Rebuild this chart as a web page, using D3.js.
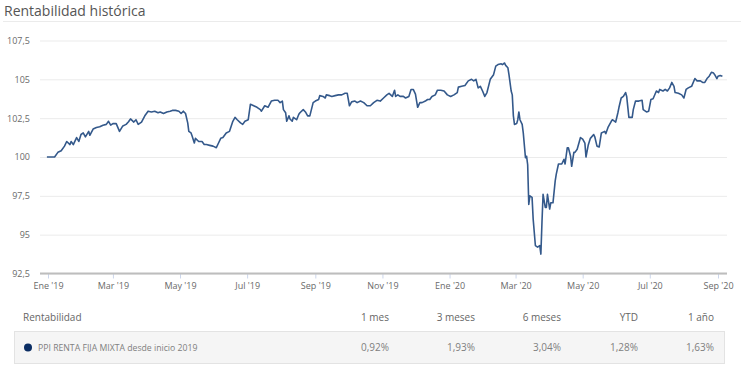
<!DOCTYPE html>
<html>
<head>
<meta charset="utf-8">
<script src="https://cdn.jsdelivr.net/npm/d3@7"></script>
<style>
  body { margin: 0; background: #fff; }
  svg { display: block; font-family: "Open Sans", sans-serif; }
</style>
</head>
<body>
<svg id="chart" width="741" height="376"></svg>
<script>
// valores (base 100 a inicio de 2019)
let dates = [
  "2018-12-31","2019-01-07","2019-01-10","2019-01-13","2019-01-16","2019-01-18","2019-01-21","2019-01-22","2019-01-24","2019-01-27",
  "2019-01-29","2019-01-31","2019-02-02","2019-02-04","2019-02-07","2019-02-08","2019-02-11","2019-02-14","2019-02-17","2019-02-20",
  "2019-02-23","2019-02-25","2019-02-27","2019-03-01","2019-03-04","2019-03-07","2019-03-10","2019-03-13","2019-03-15","2019-03-17",
  "2019-03-20","2019-03-22","2019-03-24","2019-03-27","2019-03-30","2019-04-02","2019-04-05","2019-04-08","2019-04-11","2019-04-13",
  "2019-04-16","2019-04-19","2019-04-22","2019-04-24","2019-04-27","2019-04-30","2019-05-02","2019-05-04","2019-05-06","2019-05-08",
  "2019-05-09","2019-05-11","2019-05-12","2019-05-14","2019-05-15","2019-05-18","2019-05-21","2019-05-23","2019-05-25","2019-05-28",
  "2019-05-31","2019-06-03","2019-06-05","2019-06-07","2019-06-09","2019-06-12","2019-06-15","2019-06-18","2019-06-20","2019-06-22",
  "2019-06-25","2019-06-27","2019-06-29","2019-07-02","2019-07-04","2019-07-07","2019-07-10","2019-07-13","2019-07-14","2019-07-17",
  "2019-07-20","2019-07-23","2019-07-26","2019-07-29","2019-07-31","2019-08-02","2019-08-03","2019-08-05","2019-08-06","2019-08-08",
  "2019-08-09","2019-08-11","2019-08-12","2019-08-15","2019-08-17","2019-08-18","2019-08-21","2019-08-23","2019-08-25","2019-08-27",
  "2019-08-30","2019-09-01","2019-09-04","2019-09-05","2019-09-08","2019-09-10","2019-09-11","2019-09-14","2019-09-16","2019-09-19",
  "2019-09-22","2019-09-25","2019-09-28","2019-09-30","2019-10-02","2019-10-04","2019-10-07","2019-10-09","2019-10-12","2019-10-15",
  "2019-10-18","2019-10-21","2019-10-24","2019-10-27","2019-10-30","2019-11-02","2019-11-05","2019-11-07","2019-11-10","2019-11-12",
  "2019-11-13","2019-11-15","2019-11-17","2019-11-20","2019-11-22","2019-11-25","2019-11-27","2019-11-29","2019-12-01","2019-12-03",
  "2019-12-05","2019-12-07","2019-12-10","2019-12-12","2019-12-14","2019-12-16","2019-12-19","2019-12-21","2019-12-24","2019-12-27",
  "2019-12-30","2020-01-02","2020-01-05","2020-01-08","2020-01-09","2020-01-12","2020-01-15","2020-01-18","2020-01-21","2020-01-23",
  "2020-01-25","2020-01-27","2020-01-29","2020-01-31","2020-02-02","2020-02-04","2020-02-07","2020-02-10","2020-02-12","2020-02-14",
  "2020-02-17","2020-02-18","2020-02-20","2020-02-21","2020-02-23","2020-02-24","2020-02-26","2020-02-27","2020-02-28","2020-02-29",
  "2020-03-02","2020-03-03","2020-03-04","2020-03-05","2020-03-07","2020-03-08","2020-03-10","2020-03-11","2020-03-12","2020-03-13",
  "2020-03-14","2020-03-16","2020-03-17","2020-03-19","2020-03-21","2020-03-23","2020-03-24","2020-03-25","2020-03-26","2020-03-28",
  "2020-03-29","2020-03-30","2020-04-01","2020-04-02","2020-04-04","2020-04-06","2020-04-07","2020-04-09","2020-04-12","2020-04-14",
  "2020-04-15","2020-04-17","2020-04-18","2020-04-20","2020-04-21","2020-04-23","2020-04-24","2020-04-26","2020-04-29","2020-05-01",
  "2020-05-03","2020-05-04","2020-05-06","2020-05-08","2020-05-11","2020-05-12","2020-05-14","2020-05-16","2020-05-18","2020-05-21",
  "2020-05-22","2020-05-24","2020-05-27","2020-05-28","2020-05-31","2020-06-02","2020-06-03","2020-06-05","2020-06-07","2020-06-09",
  "2020-06-10","2020-06-12","2020-06-15","2020-06-16","2020-06-18","2020-06-21","2020-06-24","2020-06-25","2020-06-28","2020-06-30",
  "2020-07-02","2020-07-04","2020-07-07","2020-07-09","2020-07-10","2020-07-13","2020-07-15","2020-07-17","2020-07-19","2020-07-21",
  "2020-07-23","2020-07-24","2020-07-27","2020-07-30","2020-08-01","2020-08-03","2020-08-05","2020-08-08","2020-08-11","2020-08-13",
  "2020-08-16","2020-08-18","2020-08-20","2020-08-22","2020-08-24","2020-08-26","2020-08-28","2020-08-29","2020-08-31","2020-09-01",
  "2020-09-03","2020-09-05"
];
let values = [
  100.0,100.0,100.3,100.4,100.7,101.0,100.8,101.0,100.8,101.25,
  101.0,101.45,101.55,101.3,101.65,101.4,101.8,101.9,101.95,102.05,
  102.1,102.3,102.05,102.15,102.15,101.65,102.0,102.1,102.25,102.45,
  102.25,102.4,102.1,102.25,102.65,102.95,102.9,102.95,102.85,102.9,
  102.8,102.9,102.95,103.0,103.0,102.95,102.8,102.95,102.8,102.2,
  101.65,101.55,101.35,100.9,101.2,101.0,101.0,100.8,100.8,100.75,
  100.7,100.6,100.9,101.2,101.25,101.55,101.65,102.3,102.55,102.4,
  102.2,102.1,102.3,102.4,103.4,103.3,103.2,103.05,102.95,103.3,
  103.2,103.6,103.65,103.65,103.5,103.6,103.05,102.85,102.3,102.65,
  102.45,102.3,102.55,102.4,102.75,102.85,103.05,102.9,102.65,102.65,
  103.5,103.6,103.7,103.95,103.9,103.8,104.0,103.95,103.9,103.95,
  104.0,104.0,104.1,104.1,103.3,103.55,103.6,103.5,103.6,103.5,
  103.3,103.3,103.5,103.65,103.6,103.8,104.0,104.1,103.9,104.3,
  103.9,104.0,103.9,103.9,103.8,103.9,104.35,104.35,104.05,103.2,
  103.5,103.5,103.6,103.7,103.7,103.9,104.0,104.3,104.3,104.25,
  104.0,103.9,104.0,104.15,104.5,104.55,104.6,104.9,105.0,104.9,
  105.0,104.45,104.55,104.25,103.9,104.15,105.0,105.3,105.85,105.95,
  106.0,105.95,106.05,105.9,105.75,105.3,104.25,104.0,102.65,102.1,
  102.15,102.4,102.9,102.4,102.1,101.55,99.95,100.05,99.5,96.95,
  97.5,97.4,96.0,94.3,94.2,94.3,93.75,95.8,97.6,96.75,
  96.75,97.6,96.65,97.05,97.05,98.45,98.9,99.55,99.55,99.85,
  99.55,100.6,100.6,100.05,99.4,100.3,100.3,100.5,101.25,101.15,
  100.9,100.0,100.75,101.2,101.45,101.3,100.7,100.65,101.55,101.65,
  101.5,101.9,102.3,102.4,102.25,102.85,103.2,103.8,103.9,104.15,
  103.9,102.55,102.55,103.05,103.6,103.6,103.65,103.05,102.9,102.95,
  103.7,103.75,104.25,104.15,104.35,104.25,104.35,104.25,104.45,104.8,
  104.55,104.15,104.1,104.0,103.8,104.35,104.45,104.55,105.05,104.9,
  104.9,104.8,104.8,105.05,105.2,105.45,105.4,105.3,105.05,105.2,
  105.25,105.2
];

let yTicks = [92.5, 95, 97.5, 100, 102.5, 105, 107.5];
let xTickDates = ["2019-01-01","2019-03-01","2019-05-01","2019-07-01","2019-09-01","2019-11-01",
                  "2020-01-01","2020-03-01","2020-05-01","2020-07-01","2020-09-01"];
let monthNames = ["Ene","Feb","Mar","Abr","May","Jun","Jul","Ago","Sep","Oct","Nov","Dic"];

let fundName = "PPI RENTA FIJA MIXTA desde inicio 2019";
let periods = ["1 mes", "3 meses", "6 meses", "YTD", "1 año"];
let returns = ["0,92%", "1,93%", "3,04%", "1,28%", "1,63%"];

// layout
let plotLeft = 40, plotRight = 727, plotTop = 40.5, plotBottom = 273.5;
let colRight = [389, 475, 561, 638, 714];

let parse = d3.timeParse("%Y-%m-%d");
let series = dates.map((d, i) => ({date: parse(d), value: values[i]}));

let svg = d3.select("#chart");

let x = d3.scaleTime()
    .domain([parse("2019-01-01"), parse("2020-09-01")])
    .range([48, 718]);
let y = d3.scaleLinear()
    .domain([92.5, 107.5])
    .range([plotBottom, plotTop]);

let comma = v => String(v).replace(".", ",");

// titulo
svg.append("text")
    .attr("x", 4)
    .attr("y", 16)
    .attr("font-size", "14px")
    .attr("fill", "#555")
    .text("Rentabilidad histórica");

svg.append("line")
    .attr("x1", 3).attr("x2", 741)
    .attr("y1", 21.5).attr("y2", 21.5)
    .attr("stroke", "#ebebeb");

// eje y + rejilla
let yAxis = svg.append("g")
    .attr("transform", "translate(" + plotLeft + ",0)")
    .call(d3.axisLeft(y).tickValues(yTicks).tickFormat(comma)
        .tickSize(-(plotRight - plotLeft)).tickPadding(10));
yAxis.select(".domain").remove();
yAxis.selectAll(".tick line").attr("stroke", "#ebebeb");
yAxis.selectAll(".tick text")
    .attr("fill", "#6a6a6a")
    .attr("font-size", "9px")
    .attr("font-family", "Open Sans, sans-serif");

// eje x
let xAxis = svg.append("g")
    .attr("transform", "translate(0," + plotBottom + ")")
    .call(d3.axisBottom(x)
        .tickValues(xTickDates.map(parse))
        .tickFormat(d => monthNames[d.getMonth()] + " '" + d3.timeFormat("%y")(d))
        .tickSize(5).tickPadding(4));
xAxis.select(".domain").remove();
xAxis.selectAll(".tick line").attr("stroke", "#ccd6eb");
xAxis.selectAll(".tick text")
    .attr("fill", "#6a6a6a")
    .attr("font-size", "9px")
    .attr("font-family", "Open Sans, sans-serif");

svg.append("line")
    .attr("x1", plotLeft).attr("x2", plotRight)
    .attr("y1", plotBottom).attr("y2", plotBottom)
    .attr("stroke", "#bdbdbd")
    .attr("stroke-width", 2);

// serie
let line = d3.line()
    .x(d => x(d.date))
    .y(d => y(d.value));

svg.append("path")
    .datum(series)
    .attr("d", line)
    .attr("fill", "none")
    .attr("stroke", "#34598b")
    .attr("stroke-width", 1.6)
    .attr("stroke-linejoin", "round");

// tabla de rentabilidades
svg.append("text")
    .attr("x", 23).attr("y", 321)
    .attr("font-size", "10px").attr("fill", "#666")
    .text("Rentabilidad");

svg.selectAll("text.period")
    .data(periods)
    .enter().append("text")
    .attr("class", "period")
    .attr("x", (d, i) => colRight[i]).attr("y", 321)
    .attr("text-anchor", "end")
    .attr("font-size", "10px").attr("fill", "#666")
    .text(d => d);

svg.append("rect")
    .attr("x", 14.5).attr("y", 331.5)
    .attr("width", 710).attr("height", 32)
    .attr("fill", "#f5f5f5")
    .attr("stroke", "#e3e3e3");

svg.append("circle")
    .attr("cx", 28).attr("cy", 347.5).attr("r", 4)
    .attr("fill", "#0b2d63");

svg.append("text")
    .attr("x", 38).attr("y", 351)
    .attr("font-size", "8.7px").attr("fill", "#808080")
    .text(fundName);

svg.selectAll("text.ret")
    .data(returns)
    .enter().append("text")
    .attr("class", "ret")
    .attr("x", (d, i) => colRight[i]).attr("y", 351)
    .attr("text-anchor", "end")
    .attr("font-size", "10px").attr("fill", "#808080")
    .text(d => d);
</script>
</body>
</html>
